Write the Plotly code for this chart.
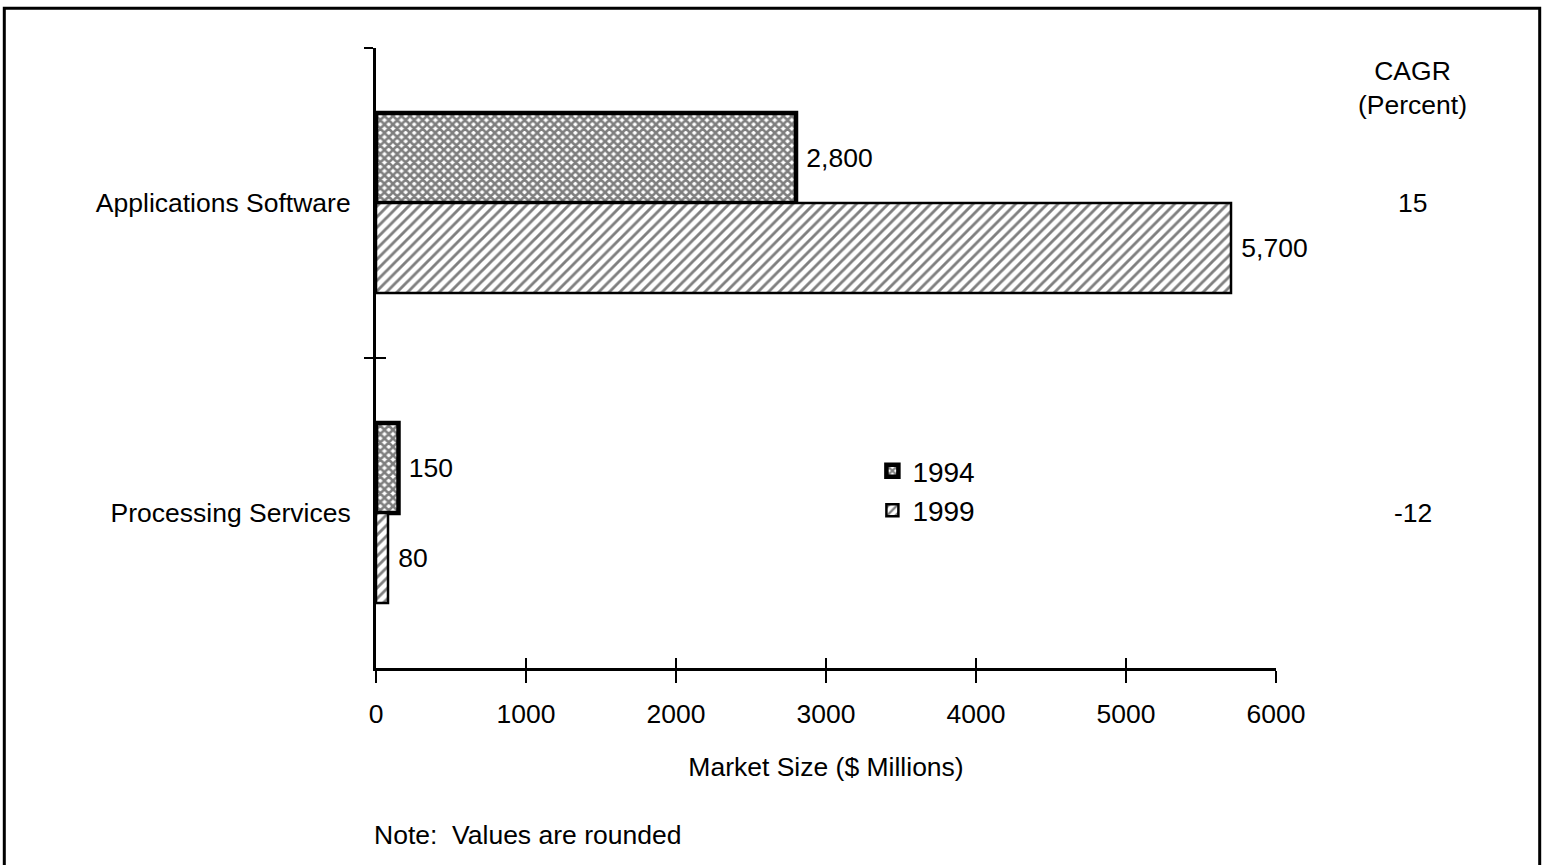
import plotly.graph_objects as go

categories = ["Applications Software", "Processing Services"]
years = ["1994", "1999"]
values_1994 = [2800, 150]
values_1999 = [5700, 80]
cagr = ["15", "-12"]
x_ticks = [0, 1000, 2000, 3000, 4000, 5000, 6000]

FONT = "Liberation Sans, Arial, Helvetica, sans-serif"
FS = 26.5

fig = go.Figure()
fig.add_trace(go.Bar(
    y=categories, x=values_1994, name=years[0], orientation="h",
    marker=dict(color="white", line=dict(color="black", width=4.5),
                pattern=dict(shape="x", fgcolor="black", bgcolor="white", size=6, solidity=0.68)),
    texttemplate=" %{x:,}", textposition="outside", cliponaxis=False, constraintext="none",
    textfont=dict(size=FS, color="black", family=FONT),
))
fig.add_trace(go.Bar(
    y=categories, x=values_1999, name=years[1], orientation="h",
    marker=dict(color="white", line=dict(color="black", width=2.5),
                pattern=dict(shape="/", fgcolor="black", bgcolor="white", size=7.5, solidity=0.38)),
    texttemplate=" %{x:,}", textposition="outside", cliponaxis=False, constraintext="none",
    textfont=dict(size=FS, color="black", family=FONT),
))
# invisible trace for secondary axes (crossing ticks)
fig.add_trace(go.Scatter(x=[0], y=[categories[0]], xaxis="x2", yaxis="y2",
                         mode="markers", marker=dict(opacity=0), showlegend=False, hoverinfo="skip"))

fig.update_layout(
    width=1543, height=865,
    margin=dict(l=376, r=267, t=48, b=197),
    paper_bgcolor="white", plot_bgcolor="white",
    font=dict(family=FONT, color="black", size=FS),
    barmode="group", bargap=0.42, bargroupgap=0,
    showlegend=True,
    legend=dict(x=0.556, y=0.358, xanchor="left", yanchor="top",
                font=dict(size=28, family=FONT), bgcolor="rgba(0,0,0,0)",
                itemwidth=30, tracegroupgap=0, indentation=-4),
    xaxis=dict(range=[0, 6000], tickvals=x_ticks, ticks="outside", ticklen=12, tickwidth=2,
               tickcolor="black", showline=True, linecolor="black", linewidth=3,
               showgrid=False, zeroline=False, tickfont=dict(size=FS), ticklabelstandoff=8,
               title=dict(text="Market Size ($ Millions)", font=dict(size=FS), standoff=30)),
    xaxis2=dict(range=[0, 6000], tickvals=x_ticks, ticks="inside", ticklen=10, tickwidth=2,
                tickcolor="black", overlaying="x", side="bottom", showticklabels=False,
                showgrid=False, zeroline=False, showline=False, matches="x"),
    yaxis=dict(categoryorder="array", categoryarray=categories, autorange="reversed",
               tickson="boundaries", ticks="outside", ticklen=9, tickwidth=2, tickcolor="black",
               showline=True, linecolor="black", linewidth=3, showgrid=False,
               tickfont=dict(size=FS), ticklabelstandoff=17),
    yaxis2=dict(categoryorder="array", categoryarray=categories, autorange="reversed",
                tickson="boundaries", ticks="inside", ticklen=10, tickwidth=2, tickcolor="black",
                overlaying="y", side="left", showticklabels=False, showgrid=False,
                showline=False, matches="y"),
)

# CAGR header and values
fig.add_annotation(x=1.152, y=1.0, xref="paper", yref="paper", text="CAGR<br>(Percent)",
                   showarrow=False, font=dict(size=FS), yanchor="top", xanchor="center",
                   yshift=-6, align="center")
for cat, c in zip(categories, cagr):
    fig.add_annotation(x=1.152, y=cat, xref="paper", yref="y", text=c, showarrow=False,
                       font=dict(size=FS), xanchor="center")

fig.add_annotation(x=-0.004, y=-0.27, xref="paper", yref="paper", text="Note:  Values are rounded",
                   showarrow=False, font=dict(size=FS), xanchor="left", yanchor="middle")

# frame
fig.add_shape(type="rect", xref="paper", yref="paper", x0=-0.413, x1=1.293, y0=-0.33, y1=1.064,
              line=dict(color="black", width=3), layer="below")

fig.write_html("out.html")
